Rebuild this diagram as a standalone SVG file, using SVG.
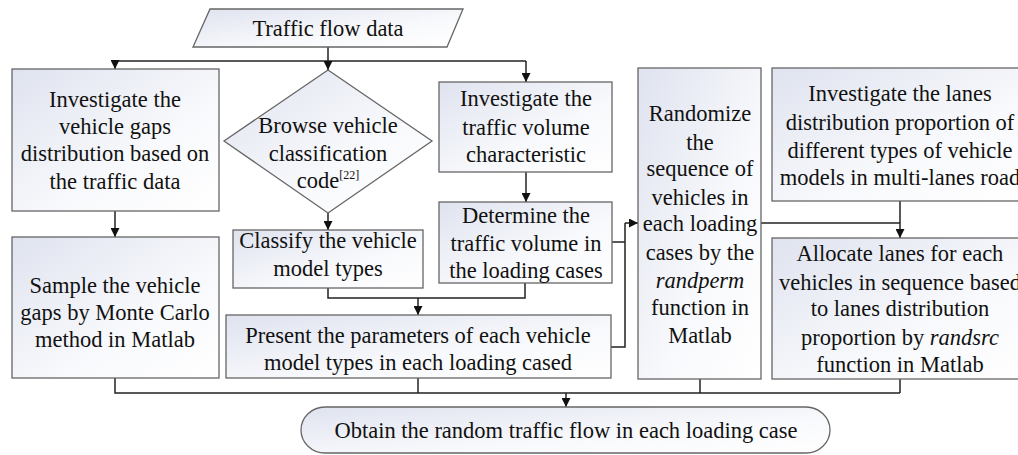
<svg xmlns="http://www.w3.org/2000/svg" width="1018" height="455" viewBox="0 0 1018 455">
<defs>
<linearGradient id="g" x1="0" y1="0" x2="1" y2="1">
<stop offset="0" stop-color="#dfe3ef"/>
<stop offset="0.6" stop-color="#f8f9fc"/>
<stop offset="1" stop-color="#ffffff"/>
</linearGradient>
<marker id="ah" viewBox="0 0 10 10" refX="10" refY="5" markerWidth="9" markerHeight="9" markerUnits="userSpaceOnUse" orient="auto">
<path d="M0,0 L10,5 L0,10 z" fill="#111"/>
</marker>
</defs>
<style>
.n{fill:url(#g);stroke:#666;stroke-width:1.3}
.c{fill:none;stroke:#222;stroke-width:1.5}
.a{marker-end:url(#ah)}
</style>
<rect width="1018" height="455" fill="#fff"/>
<g id="connectors">
<path class="c" d="M328,47 V61"/>
<path class="c" d="M115,61 H526"/>
<path class="c a" d="M115,61 V69"/>
<path class="c a" d="M328,61 V70"/>
<path class="c a" d="M526,61 V82"/>
<path class="c a" d="M115,211 V237"/>
<path class="c a" d="M328,213 V230"/>
<path class="c a" d="M526,172 V202"/>
<path class="c" d="M328,288 V298 H525 V283"/>
<path class="c a" d="M418,298 V315"/>
<path class="c" d="M612,242 H625"/>
<path class="c" d="M611,347 H625 V223"/>
<path class="c a" d="M625,223 H638"/>
<path class="c" d="M761,223 H900"/>
<path class="c" d="M900,201 V223"/>
<path class="c a" d="M900,223 V238"/>
<path class="c" d="M115,378 V393 H900"/>
<path class="c" d="M418,378 V393"/>
<path class="c" d="M700,379 V393"/>
<path class="c" d="M900,379 V393"/>
<path class="c a" d="M566,393 V407"/>
</g>
<g font-family="Liberation Serif" font-size="22.5" fill="#111" text-anchor="middle">
<g id="start">
<polygon class="n" points="210,9 463,9 447,47 193,47"/>
<text style="font-family:'Liberation Serif',serif" x="328" y="36">Traffic flow data</text>
</g>
<g id="gaps">
<rect class="n" x="12" y="69" width="207" height="142"/>
<text style="font-family:'Liberation Serif',serif" x="115" y="107">Investigate the</text>
<text style="font-family:'Liberation Serif',serif" x="115" y="134">vehicle gaps</text>
<text style="font-family:'Liberation Serif',serif" x="115" y="161">distribution based on</text>
<text style="font-family:'Liberation Serif',serif" x="115" y="189">the traffic data</text>
</g>
<g id="sample">
<rect class="n" x="12" y="237" width="207" height="141"/>
<text style="font-family:'Liberation Serif',serif" x="115" y="293">Sample the vehicle</text>
<text style="font-family:'Liberation Serif',serif" x="115" y="320">gaps by Monte Carlo</text>
<text style="font-family:'Liberation Serif',serif" x="115" y="347">method in Matlab</text>
</g>
<g id="browse">
<polygon class="n" points="328,70 432,141 328,213 224,141"/>
<text style="font-family:'Liberation Serif',serif" x="328" y="133">Browse vehicle</text>
<text style="font-family:'Liberation Serif',serif" x="328" y="161">classification</text>
<text style="font-family:'Liberation Serif',serif" x="328" y="188">code<tspan font-size="12" dy="-9">[22]</tspan></text>
</g>
<g id="classify">
<rect class="n" x="233" y="230" width="190" height="58"/>
<text style="font-family:'Liberation Serif',serif" x="328" y="248">Classify the vehicle</text>
<text style="font-family:'Liberation Serif',serif" x="328" y="276">model types</text>
</g>
<g id="volume">
<rect class="n" x="439" y="82" width="173" height="90"/>
<text style="font-family:'Liberation Serif',serif" x="526" y="106">Investigate the</text>
<text style="font-family:'Liberation Serif',serif" x="526" y="135">traffic volume</text>
<text style="font-family:'Liberation Serif',serif" x="526" y="162">characteristic</text>
</g>
<g id="determine">
<rect class="n" x="439" y="202" width="173" height="81"/>
<text style="font-family:'Liberation Serif',serif" x="526" y="223">Determine the</text>
<text style="font-family:'Liberation Serif',serif" x="526" y="251">traffic volume in</text>
<text style="font-family:'Liberation Serif',serif" x="526" y="278">the loading cases</text>
</g>
<g id="present">
<rect class="n" x="226" y="315" width="385" height="63"/>
<text style="font-family:'Liberation Serif',serif" x="418" y="343">Present the parameters of each vehicle</text>
<text style="font-family:'Liberation Serif',serif" x="418" y="370">model types in each loading cased</text>
</g>
<g id="randomize">
<rect class="n" x="638" y="68" width="123" height="311"/>
<text style="font-family:'Liberation Serif',serif" x="700" y="121">Randomize</text>
<text style="font-family:'Liberation Serif',serif" x="700" y="150">the</text>
<text style="font-family:'Liberation Serif',serif" x="700" y="176">sequence of</text>
<text style="font-family:'Liberation Serif',serif" x="700" y="205">vehicles in</text>
<text style="font-family:'Liberation Serif',serif" x="700" y="231">each loading</text>
<text style="font-family:'Liberation Serif',serif" x="700" y="260">cases by the</text>
<text style="font-family:'Liberation Serif',serif" x="700" y="288" font-style="italic">randperm</text>
<text style="font-family:'Liberation Serif',serif" x="700" y="315">function in</text>
<text style="font-family:'Liberation Serif',serif" x="700" y="343">Matlab</text>
</g>
<g id="lanes">
<rect class="n" x="772" y="68" width="256" height="133"/>
<text style="font-family:'Liberation Serif',serif" x="900" y="101">Investigate the lanes</text>
<text style="font-family:'Liberation Serif',serif" x="900" y="130">distribution proportion of</text>
<text style="font-family:'Liberation Serif',serif" x="900" y="158">different types of vehicle</text>
<text style="font-family:'Liberation Serif',serif" x="900" y="185">models in multi-lanes road</text>
</g>
<g id="allocate">
<rect class="n" x="772" y="238" width="256" height="141"/>
<text style="font-family:'Liberation Serif',serif" x="900" y="261">Allocate lanes for each</text>
<text style="font-family:'Liberation Serif',serif" x="900" y="290">vehicles in sequence based</text>
<text style="font-family:'Liberation Serif',serif" x="900" y="316">to lanes distribution</text>
<text style="font-family:'Liberation Serif',serif" x="900" y="345">proportion by <tspan font-style="italic">randsrc</tspan></text>
<text style="font-family:'Liberation Serif',serif" x="900" y="372">function in Matlab</text>
</g>
<g id="end">
<rect class="n" x="301" y="407" width="529" height="46" rx="24" ry="23"/>
<text style="font-family:'Liberation Serif',serif" x="566" y="438">Obtain the random traffic flow in each loading case</text>
</g>
</g>
</svg>
